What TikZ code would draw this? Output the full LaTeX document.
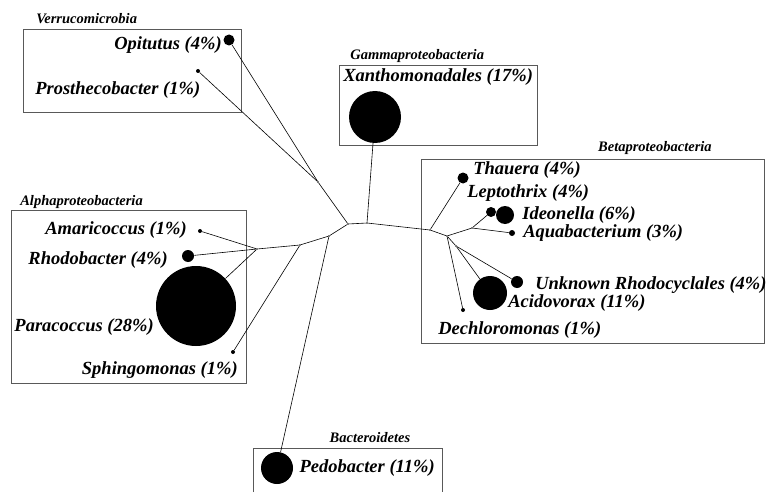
\documentclass[tikz,border=0pt]{standalone}
\usepackage{fontspec}
\setmainfont{Liberation Serif}
\usetikzlibrary{positioning}

\tikzset{
	taxon/.style = { circle, fill, inner sep = 0pt, minimum size = #1 },
	fork/.style = { circle, fill, inner sep = 0pt, minimum size = 1.6pt },
	genus/.style = { font = \bfseries\itshape\fontsize{18.5}{18.5}\selectfont, inner sep = 0pt },
	phylum/.style = { font = \bfseries\itshape\fontsize{14.5}{14.5}\selectfont, inner sep = 0pt },
	clade/.style = { draw = black!65, line width = 0.8pt }
}

\begin{document}
\begin{tikzpicture}[x = 1pt, y = -1pt, line width = 0.6pt]
		\useasboundingbox (0, 0) rectangle (767, 492);

		% group boxes
		\draw [clade] (23, 29) rectangle (241, 112);
		\draw [clade] (339, 65) rectangle (537, 145);
		\draw [clade] (11, 210) rectangle (246, 383);
		\draw [clade] (421, 159) rectangle (764, 343);
		\draw [clade] (253, 492) |- (442, 448) -- (442, 492);

		\node [phylum, anchor = west] (verruco) at (36, 19) {Verrucomicrobia};
		\node [phylum, anchor = west] (gamma) at (350, 56) {Gammaproteobacteria};
		\node [phylum, anchor = west] (alpha) at (20, 202) {Alphaproteobacteria};
		\node [phylum, anchor = east] (beta) at (712, 148) {Betaproteobacteria};
		\node [phylum] (bactero) at (370, 438) {Bacteroidetes};

		% leaves
		\node [taxon = 11pt] (opitutus) at (229, 40) {};
		\node [taxon = 4pt]  (prostheco) at (198, 71) {};
		\node [taxon = 52pt] (xantho) at (375, 117) {};
		\node [taxon = 4pt]  (amari) at (200, 231) {};
		\node [taxon = 12pt] (rhodo) at (188, 256) {};
		\node [taxon = 80pt] (paraco) at (196, 306) {};
		\node [taxon = 4pt]  (sphingo) at (233, 352) {};
		\node [taxon = 11pt] (thauera) at (463, 178) {};
		\node [taxon = 10pt] (lepto) at (491, 212) {};
		\node [taxon = 18pt] (ideo) at (505, 215) {};
		\node [taxon = 6pt]  (aquab) at (512, 233) {};
		\node [taxon = 12pt] (rhodocy) at (517, 282) {};
		\node [taxon = 34pt] (acido) at (490, 293) {};
		\node [taxon = 4pt]  (dechloro) at (463, 310) {};
		\node [taxon = 32pt] (pedo) at (277, 468) {};

		\node [genus, anchor = east] (opitutusL) at (222, 45) {Opitutus (4\%)};
		\node [genus, anchor = west] (prosthecoL) at (35, 90) {Prosthecobacter (1\%)};
		\node [genus, anchor = west] (xanthoL) at (343, 77) {Xanthomonadales (17\%)};
		\node [genus, anchor = east] (amariL) at (187, 230) {Amaricoccus (1\%)};
		\node [genus, anchor = east] (rhodoL) at (168, 260) {Rhodobacter (4\%)};
		\node [genus, anchor = east] (paracoL) at (154, 327) {Paracoccus (28\%)};
		\node [genus, anchor = east] (sphingoL) at (238, 370) {Sphingomonas (1\%)};
		\node [genus, anchor = west] (thaueraL) at (473, 170) {Thauera (4\%)};
		\node [genus, anchor = west] (leptoL) at (467, 193) {Leptothrix (4\%)};
		\node [genus, anchor = west] (ideoL) at (522, 215) {Ideonella (6\%)};
		\node [genus, anchor = west] (aquabL) at (523, 233) {Aquabacterium (3\%)};
		\node [genus, anchor = west] (rhodocyL) at (535, 285) {Unknown Rhodocyclales (4\%)};
		\node [genus, anchor = west] (acidoL) at (508, 303) {Acidovorax (11\%)};
		\node [genus, anchor = west] (dechloroL) at (438, 330) {Dechloromonas (1\%)};
		\node [genus, right = 6pt of pedo] (pedoL) {Pedobacter (11\%)};

		% inner forks of the tree
		\node [fork] (v1) at (318, 182) {};
		\node [fork] (c1) at (348, 224) {};
		\node [fork] (c2) at (367, 223) {};
		\node [fork] (c3) at (430, 230) {};
		\node [fork] (b1) at (447, 236) {};
		\node [fork] (b2) at (472, 228) {};
		\node [fork] (b3) at (456, 246) {};
		\node [fork] (a1) at (329, 236) {};
		\node [fork] (a2) at (300, 245) {};
		\node [fork] (a3) at (257, 249) {};

		\draw (opitutus) -- (v1);
		\draw (prostheco) -- (v1);
		\draw (v1) -- (c1);
		\draw (c1) -- (c2);
		\draw (c2) -- (xantho);
		\draw (c2) -- (c3);
		\draw (c3) -- (thauera);
		\draw (c3) -- (b1);
		\draw (b1) -- (b2);
		\draw (b2) -- (lepto);
		\draw (b2) -- (aquab);
		\draw (b1) -- (b3);
		\draw (b1) -- (dechloro);
		\draw (b3) -- (acido);
		\draw (b3) -- (rhodocy);

		\draw (c1) -- (a1);
		\draw (a1) -- (pedo);
		\draw (a1) -- (a2);
		\draw (a2) -- (sphingo);
		\draw (a2) -- (a3);
		\draw (a3) -- (amari);
		\draw (a3) -- (rhodo);
		\draw (a3) -- (paraco);
	\end{tikzpicture}
\end{document}
